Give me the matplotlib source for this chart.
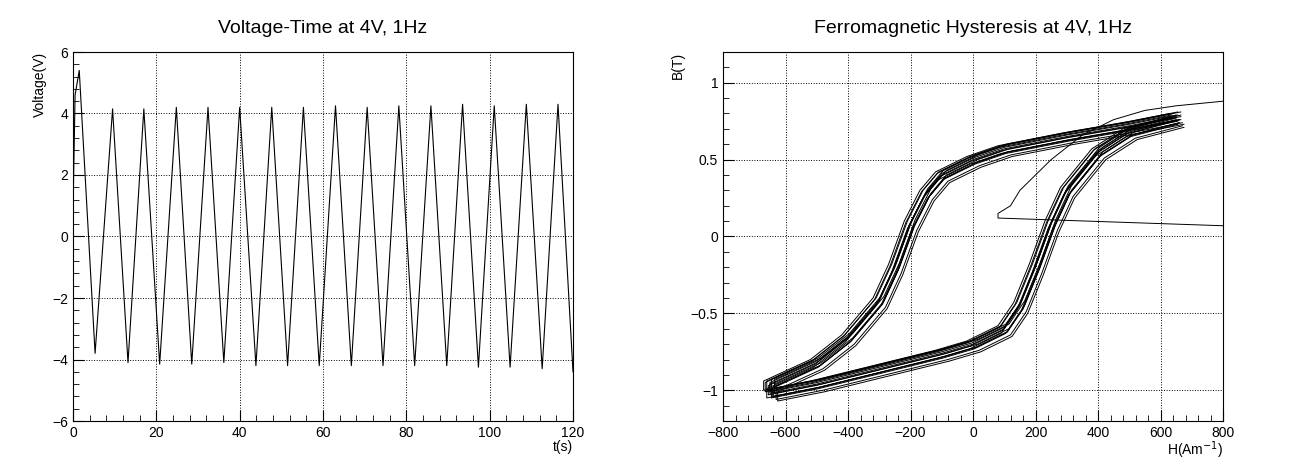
import matplotlib
matplotlib.use("Agg")
import matplotlib.pyplot as plt
import numpy as np
from matplotlib.ticker import AutoMinorLocator

# Voltage-time vertices (t, V)
t_pts = [0, 0.5, 1.5, 5.3, 9.5, 13.2, 17.0, 20.8, 24.8, 28.5, 32.4, 36.2, 40.0, 43.9, 47.7,
         51.5, 55.3, 59.1, 63.0, 66.8, 70.6, 74.4, 78.2, 82.0, 85.9, 89.7, 93.5, 97.3, 101.1,
         104.9, 108.8, 112.6, 116.4, 120.0]
v_pts = [0.8, 4.6, 5.4, -3.8, 4.15, -4.1, 4.15, -4.15, 4.2, -4.15, 4.2, -4.1, 4.2, -4.2, 4.2,
         -4.2, 4.2, -4.2, 4.25, -4.2, 4.2, -4.2, 4.25, -4.2, 4.25, -4.2, 4.3, -4.25, 4.25,
         -4.25, 4.3, -4.3, 4.3, -4.4]

# Hysteresis branch shape
up_H = [650, 500, 300, 100, 0, -100, -150, -200, -250, -300, -400, -500, -650]
up_B = [0.78, 0.72, 0.65, 0.57, 0.50, 0.40, 0.28, 0.08, -0.20, -0.42, -0.66, -0.82, -0.96]
lo_H = [-650, -500, -300, -100, 0, 100, 150, 200, 250, 300, 400, 500, 650]
lo_B = [-1.02, -0.96, -0.86, -0.76, -0.70, -0.60, -0.45, -0.20, 0.08, 0.30, 0.55, 0.68, 0.76]
# per-cycle offsets
cyc_dH = [0, 10, -10, 20, -15, 5, 15, -5, 25, -20, 10, 0, -10, 15, 5]
cyc_dB = [0.0, -0.02, 0.02, -0.04, 0.01, -0.03, 0.03, -0.01, -0.05, 0.02, -0.02, 0.01, -0.03, 0.0, 0.03]
# initial magnetization path
init_H = [800, 80, 80, 120, 150, 200, 250, 350, 450, 550, 650, 800]
init_B = [0.07, 0.12, 0.15, 0.20, 0.30, 0.40, 0.50, 0.66, 0.76, 0.82, 0.85, 0.88]

plt.rcParams['font.family'] = ['Liberation Sans', 'DejaVu Sans']
fig = plt.figure(figsize=(12.99, 4.73), dpi=100)
ax1 = fig.add_axes([73/1299, 52/473, 500/1299, 369/473])
ax2 = fig.add_axes([723/1299, 52/473, 500/1299, 369/473])

ax1.plot(t_pts, v_pts, color='black', lw=0.8)
ax1.set_xlim(0, 120); ax1.set_ylim(-6, 6)
ax1.set_title("Voltage-Time at 4V, 1Hz", fontsize=14, pad=14)
ax1.set_xlabel("t(s)", loc='right', fontsize=10, labelpad=0)
ax1.set_ylabel("Voltage(V)", loc='top', fontsize=10)

for k in range(len(cyc_dH)):
    H = [h + cyc_dH[k] for h in up_H + lo_H]
    B = [b + cyc_dB[k] for b in up_B + lo_B]
    ax2.plot(H, B, color='black', lw=0.7)
ax2.plot(init_H, init_B, color='black', lw=0.7)
ax2.set_xlim(-800, 800); ax2.set_ylim(-1.2, 1.2)
ax2.set_yticks([-1, -0.5, 0, 0.5, 1])
ax2.set_yticklabels(['\u22121', '\u22120.5', '0', '0.5', '1'])
ax2.set_title("Ferromagnetic Hysteresis at 4V, 1Hz", fontsize=14, pad=14)
ax2.set_xlabel("H(Am$^{-1}$)", loc='right', fontsize=10, labelpad=0)
ax2.set_ylabel("B(T)", loc='top', fontsize=10)

for ax in (ax1, ax2):
    ax.grid(True, linestyle=':', color='black', lw=0.7)
    ax.xaxis.set_minor_locator(AutoMinorLocator(5))
    ax.yaxis.set_minor_locator(AutoMinorLocator(5))
    ax.tick_params(which='both', direction='in', top=False, right=False, labelsize=10)
    ax.tick_params(which='major', length=8)
    ax.tick_params(which='minor', length=4)

fig.savefig("out.png", dpi=100)
